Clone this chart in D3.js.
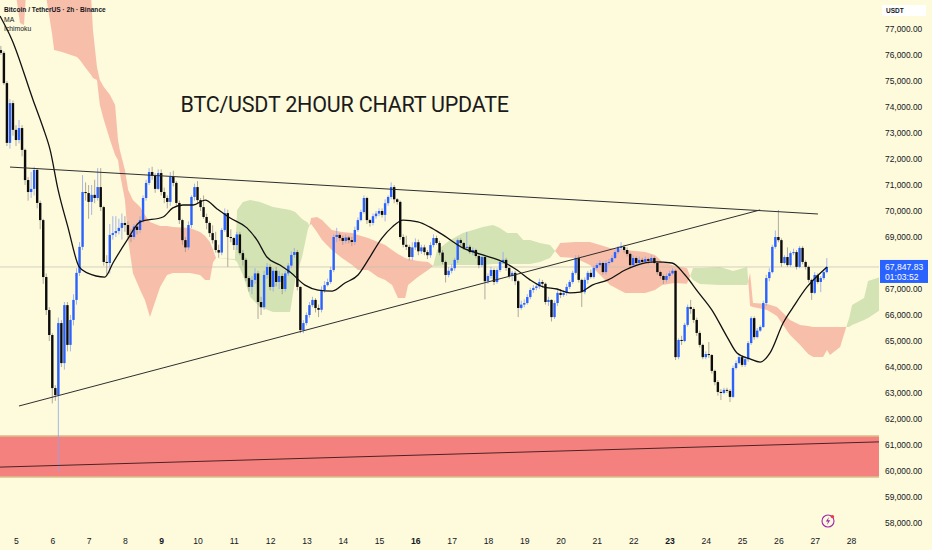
<!DOCTYPE html>
<html>
<head>
<meta charset="utf-8">
<script src="https://cdn.jsdelivr.net/npm/d3@7"></script>
<style>
  html, body { margin: 0; padding: 0; background: #fefadc; }
  #chart { width: 932px; height: 550px; }
</style>
</head>
<body>
<div id="chart"></div>
<script>
var TEXTFONT = '"Liberation Sans", Arial, sans-serif';
var WIDTH = 932;
var HEIGHT = 550;
var PLOT_RIGHT = 879;

// ---- data (prices in thousands of USDT, time in day-of-month) ----
var DAY_TICKS = [5, 6, 7, 8, 9, 10, 11, 12, 13, 14, 15, 16, 17, 18, 19, 20, 21, 22, 23, 24, 25, 26, 27, 28];
var BOLD_DAYS = [9, 16, 23];
var PRICE_TICKS = [58, 59, 60, 61, 62, 63, 64, 65, 66, 67, 68, 69, 70, 71, 72, 73, 74, 75, 76, 77];
var FIRST_CANDLE = { 'day' : 4, 'hour' : 14 };
var CANDLE_HOURS = 2;
// [open, high, low, close]
var CANDLES = [
  [76.19,76.35,76.00,76.08],[76.08,76.15,74.85,74.92],[74.92,75.00,72.50,72.62],[72.62,74.30,72.40,74.15],
  [74.15,74.25,72.90,73.12],[73.12,73.30,72.50,72.73],[72.73,73.50,72.60,73.19],[73.19,73.30,72.10,72.35],
  [72.35,72.40,71.00,71.19],[71.19,71.30,70.40,70.73],[70.73,71.50,70.50,70.85],[70.85,71.70,70.60,71.58],
  [71.58,71.65,70.10,70.31],[70.31,70.40,69.30,69.65],[69.65,69.70,67.20,67.46],[67.46,67.60,66.00,66.19],
  [66.19,66.30,65.00,65.23],[65.23,65.30,62.60,63.19],[63.19,63.30,62.70,62.92],[62.92,65.90,59.96,65.69],
  [65.69,65.80,64.00,64.15],[64.15,66.50,63.90,66.38],[66.38,66.50,64.60,64.85],[64.85,66.00,64.60,65.81],
  [65.81,66.80,65.60,66.58],[66.58,67.80,66.40,67.62],[67.62,68.80,67.50,68.62],[68.62,71.38,68.50,70.73],
  [70.73,71.10,70.40,70.69],[70.69,71.00,69.70,70.35],[70.35,71.00,69.85,70.62],[70.62,71.20,70.30,70.50],
  [70.50,71.65,70.40,70.92],[70.92,71.65,70.00,70.15],[70.15,70.20,67.90,68.04],[68.04,68.30,67.55,68.00],
  [68.00,69.50,67.60,69.08],[69.08,69.80,68.90,69.15],[69.15,69.80,69.00,69.23],[69.23,69.70,69.10,69.35],
  [69.35,69.90,68.90,69.54],[69.54,69.80,69.20,69.46],[69.46,69.60,68.95,69.08],[69.08,69.30,68.80,69.00],
  [69.00,69.50,68.90,69.40],[69.40,69.55,69.10,69.27],[69.27,69.80,69.15,69.65],[69.65,70.60,69.55,70.50],
  [70.50,71.20,70.40,71.08],[71.08,71.65,71.00,71.50],
  [71.50,71.70,71.20,71.35],[71.35,71.45,70.70,70.85],[70.85,71.60,70.80,71.46],[71.46,71.60,70.60,70.73],
  [70.73,70.90,70.30,70.50],[70.50,70.60,70.10,70.35],[70.35,71.50,70.20,71.31],[71.31,71.55,70.95,71.08],
  [71.08,71.15,70.20,70.31],[70.31,70.40,69.50,69.65],[69.65,69.70,68.70,68.88],[68.88,69.00,68.42,68.60],
  [68.60,69.60,68.50,69.46],[69.46,70.60,69.35,70.54],[70.54,71.05,70.40,70.92],[70.92,71.15,70.30,70.42],
  [70.42,70.50,70.00,70.15],[70.15,70.60,69.70,69.77],[69.77,69.90,69.30,69.54],[69.54,69.60,69.00,69.15],
  [69.15,69.45,68.75,68.88],[68.88,69.20,68.40,68.50],[68.50,68.70,68.20,68.40],[68.40,69.35,68.30,69.27],
  [69.27,70.10,69.20,69.92],[69.92,70.05,67.85,69.00],[69.00,69.30,68.80,68.96],[68.96,69.00,68.50,68.69],
  [68.69,69.20,68.50,69.10],[69.10,69.20,68.30,68.38],[68.38,68.50,67.90,68.12],[68.12,68.20,67.30,67.42],
  [67.42,67.50,66.90,67.08],[67.08,67.50,66.80,67.35],[67.35,67.80,67.20,67.60],[67.60,67.70,65.85,66.50],
  [66.50,66.70,66.00,66.30],[66.30,67.70,66.20,67.54],[67.54,68.00,67.40,67.85],[67.85,67.95,66.95,67.08],
  [67.08,67.80,66.90,67.70],[67.70,67.85,67.10,67.27],[67.27,67.70,67.00,67.50],[67.50,67.60,66.80,67.00],
  [67.00,67.70,66.90,67.60],[67.60,68.00,67.50,67.90],
  [67.90,68.45,67.80,68.31],[68.31,68.58,68.20,68.42],[68.42,68.50,66.95,67.08],[67.08,67.10,65.30,65.42],
  [65.42,65.80,65.30,65.69],[65.69,66.10,65.60,66.00],[66.00,66.50,65.90,66.38],[66.38,66.70,66.30,66.58],
  [66.58,66.65,66.10,66.27],[66.27,66.40,65.92,66.20],[66.20,67.10,66.10,66.96],[66.96,67.30,66.85,67.15],
  [67.15,67.40,67.10,67.27],[67.27,67.85,67.20,67.73],[67.73,69.10,67.65,69.00],[69.00,69.35,68.80,69.08],
  [69.08,69.15,68.85,68.96],[68.96,69.05,68.70,68.85],[68.85,69.10,68.75,68.98],[68.98,69.05,68.75,68.88],
  [68.88,69.00,68.65,68.81],[68.81,69.40,68.70,69.27],[69.27,69.75,69.20,69.65],[69.65,70.05,69.60,69.96],
  [69.96,70.60,69.90,70.50],[70.50,70.55,69.50,69.65],[69.65,69.70,69.40,69.54],[69.54,69.90,69.45,69.80],
  [69.80,70.00,69.70,69.90],[69.90,70.10,69.80,70.00],[70.00,70.10,69.75,69.85],[69.85,70.45,69.60,70.30],
  [70.30,70.60,70.20,70.54],[70.54,71.10,70.45,70.92],[70.92,71.00,70.30,70.45],[70.45,70.50,70.25,70.35],
  [70.35,70.40,68.90,69.00],[69.00,69.10,68.60,68.70],[68.70,69.05,68.50,68.62],[68.62,68.70,68.10,68.23],
  [68.23,68.80,68.10,68.60],[68.60,68.95,68.50,68.80],[68.80,68.90,68.30,68.45],[68.45,68.70,68.35,68.60],
  [68.60,68.70,68.30,68.42],[68.42,68.50,68.15,68.30],[68.30,68.80,68.20,68.69],[68.69,69.10,68.60,68.96],
  [68.96,69.05,68.70,68.77],[68.77,68.85,68.30,68.40],[68.40,68.50,67.95,68.04],[68.04,68.10,67.25,67.54],
  [67.54,67.85,67.45,67.70],[67.70,67.95,67.60,67.80],[67.80,68.20,67.70,68.12],[68.12,68.95,68.00,68.88],
  [68.88,68.95,68.65,68.77],[68.77,68.80,68.50,68.58],[68.58,69.20,68.50,68.62],[68.62,68.70,68.35,68.42],
  [68.42,68.60,68.30,68.50],[68.50,68.55,68.20,68.27],[68.27,68.35,67.80,67.92],[67.92,68.30,67.85,68.23],
  [68.23,68.30,66.60,67.30],[67.30,67.60,67.20,67.50],[67.50,67.85,67.40,67.73],[67.73,67.80,67.15,67.27],
  [67.27,67.80,67.20,67.73],[67.73,68.10,67.65,68.04],[68.04,68.42,67.95,68.12],[68.12,68.20,67.70,67.81],
  [67.81,67.85,67.40,67.50],[67.50,67.70,67.30,67.62],[67.62,67.70,67.15,67.30],[67.30,67.35,65.92,66.27],
  [66.27,66.55,66.20,66.40],[66.40,66.60,66.30,66.46],[66.46,66.80,66.40,66.69],[66.69,67.05,66.60,66.96],
  [66.96,67.15,66.85,67.04],[67.04,67.20,66.95,67.10],[67.10,67.40,67.00,67.27],[67.27,67.35,67.05,67.20],
  [67.20,67.25,66.40,66.50],[66.50,66.70,66.35,66.58],[66.58,66.60,65.75,65.92],[65.92,66.55,65.85,66.46],
  [66.46,66.95,66.35,66.85],[66.85,67.00,66.65,66.77],[66.77,66.95,66.70,66.85],[66.85,67.20,66.75,67.08],
  [67.08,67.35,67.00,67.27],[67.27,67.70,67.20,67.62],[67.62,68.30,67.55,68.19],
  [68.19,68.30,67.25,67.35],[67.35,67.40,66.31,66.88],[66.88,67.45,66.80,67.35],[67.35,67.70,67.20,67.62],
  [67.62,67.75,67.40,67.46],[67.46,67.90,67.40,67.81],[67.81,68.00,67.75,67.92],[67.92,68.10,67.85,68.00],
  [68.00,68.05,67.55,67.65],[67.65,68.10,67.55,68.00],[68.00,68.15,67.90,68.04],[68.04,68.30,68.00,68.19],
  [68.19,68.50,68.15,68.42],[68.42,68.65,68.35,68.58],[68.58,68.80,68.50,68.62],[68.62,68.70,68.40,68.50],
  [68.50,68.60,68.25,68.35],[68.35,68.40,67.80,67.92],[67.92,68.30,67.85,68.19],[68.19,68.25,67.90,68.00],
  [68.00,68.25,67.95,68.12],[68.12,68.20,67.95,68.04],[68.04,68.25,68.00,68.15],[68.15,68.20,67.95,68.08],
  [68.08,68.30,68.00,68.19],[68.19,68.25,67.95,68.00],[68.00,68.05,67.55,67.65],[67.65,67.70,67.40,67.50],
  [67.50,67.55,67.20,67.35],[67.35,67.60,67.25,67.50],[67.50,67.70,67.40,67.60],[67.60,67.80,67.55,67.70],
  [67.70,67.75,64.27,64.38],
  [64.38,65.10,64.30,65.04],[65.04,65.20,64.85,65.00],[65.00,65.70,64.95,65.62],[65.62,66.40,65.55,66.31],
  [66.31,66.58,66.05,66.23],[66.23,66.30,65.70,65.81],[65.81,65.90,65.20,65.31],[65.31,65.40,64.75,64.85],
  [64.85,64.90,64.30,64.38],[64.38,64.60,64.30,64.50],[64.50,64.96,64.35,64.46],[64.46,64.50,63.75,63.85],
  [63.85,63.90,63.30,63.42],[63.42,63.50,62.90,63.04],[63.04,63.15,62.73,63.00],[63.00,63.20,62.95,63.12],
  [63.12,63.20,63.00,63.08],[63.08,63.15,62.65,62.85],
  [62.85,64.05,62.80,63.96],[63.96,64.25,63.90,64.15],[64.15,64.45,64.10,64.38],[64.38,64.45,64.00,64.08],
  [64.08,64.40,64.00,64.30],[64.30,65.00,64.20,64.92],[64.92,65.95,64.85,65.88],[65.88,65.95,65.05,65.15],
  [65.15,65.50,65.10,65.40],[65.40,65.60,65.35,65.54],[65.54,66.55,65.50,66.46],[66.46,67.55,66.35,67.42],
  [67.42,67.80,67.30,67.65],[67.65,68.70,67.60,68.62],[68.62,69.25,68.55,69.00],[69.00,70.04,68.80,68.88],
  [68.88,68.95,67.85,68.00],[68.00,68.30,67.95,68.23],[68.23,68.60,67.85,67.92],[67.92,68.45,67.85,68.38],
  [68.38,68.55,68.30,68.42],[68.42,68.50,67.75,67.85],[67.85,68.65,67.80,68.58],[68.58,68.65,67.95,68.04],
  [68.04,68.10,67.75,67.85],[67.85,67.90,67.25,67.35],[67.35,67.40,66.58,66.85],[66.85,67.65,66.80,67.54],
  [67.54,67.60,67.20,67.27],[67.27,67.50,66.88,67.42],[67.42,67.75,67.35,67.65],[67.65,68.19,67.60,67.84783]
];
// moving average line [day, price]
var MA_POINTS = [
  [4.56,77.5],[4.89,76.58],[5.47,74.27],[5.74,73.23],[5.94,72.35],[6.16,70.81],[6.43,69.38],[6.74,67.85],
  [6.96,67.62],[7.45,67.46],[7.67,68.0],[8.06,68.88],[8.42,69.58],[9.05,69.77],[9.32,70.12],[9.60,70.23],
  [9.88,70.23],[10.21,70.42],[10.54,70.08],[10.90,69.73],[11.36,69.35],[11.64,68.88],[11.91,68.23],[12.27,67.92],
  [12.55,67.65],[12.96,67.15],[13.32,66.96],[13.71,66.92],[14.06,67.23],[14.42,67.54],[14.70,68.12],[15.08,68.96],
  [15.36,69.38],[15.66,69.65],[16.07,69.58],[16.40,69.38],[16.76,69.08],[17.31,68.58],[17.86,68.31],[18.42,68.04],
  [18.80,67.73],[19.16,67.35],[19.52,67.08],[19.90,67.0],[20.26,66.85],[20.54,66.88],[20.87,67.15],[21.31,67.35],
  [21.78,67.73],[22.11,67.92],[22.60,68.04],[23.07,68.0],[23.43,67.54],[23.79,66.88],[24.17,66.19],[24.59,65.15],
  [24.86,64.54],[25.22,64.31],[25.50,64.19],[25.77,64.54],[26.13,65.69],[26.41,66.31],[26.79,67.08],[27.07,67.5],
  [27.34,67.85]
];
// ichimoku cloud [day, senkou A, senkou B]
var CLOUD = [
  [4.56,78.5,80.42],[5.0,78.31,80.4],[5.11,77.23,80.4],[5.22,77.15,80.35],[5.27,78.23,80.3],[5.83,78.23,80.04],
  [5.88,77.81,79.65],[5.99,76.85,79.46],[6.05,76.19,79.27],[6.27,76.12,79.08],[6.68,75.92,78.69],[6.76,75.81,78.58],
  [6.9,75.54,78.42],[7.07,75.23,78.19],[7.12,75.12,76.96],[7.23,75.04,75.54],[7.31,74.08,75.04],[7.42,73.5,74.77],
  [7.59,72.73,74.46],[7.73,72.15,74.08],[7.81,71.96,72.73],[7.86,71.46,72.35],[8.0,70.42,71.58],[8.09,68.88,70.81],
  [8.22,67.62,70.42],[8.42,66.96,70.15],[8.55,66.58,69.85],[8.69,65.92,69.58],[8.83,66.5,69.5],[8.97,67.08,69.42],
  [9.16,67.54,69.42],[9.32,67.62,69.38],[9.79,67.62,69.35],[10.07,67.54,69.19],[10.21,67.35,69.04],[10.34,67.35,68.81],
  [10.43,68.04,68.5],[10.51,68.19,68.19],[11.03,68.15,68.12],[11.09,70.04,68.04],[11.25,70.35,67.54],[11.45,70.42,66.69],
  [11.72,70.35,66.31],[12.08,70.15,66.12],[12.55,70.04,66.12],[12.69,69.96,67.35],[12.88,69.69,68.23],[13.04,69.55,69.3],
  [13.08,69.42,69.42],[13.13,69.5,69.73],[13.29,69.19,69.77],[13.43,68.88,69.65],[13.70,68.5,69.27],[13.98,68.19,69.19],
  [14.26,67.92,69.15],[14.42,67.73,69.08],[14.7,67.73,68.96],[14.97,67.46,68.81],[15.17,67.35,68.69],[15.36,67.15,68.5],
  [15.52,66.65,68.35],[15.72,66.65,68.19],[15.8,67.15,68.15],[16.07,67.46,68.08],[16.35,67.73,68.04],[16.49,67.88,67.88],
  [16.6,68.5,67.88],[16.96,68.88,67.92],[17.31,69.15,67.92],[17.59,69.27,67.92],[17.86,69.38,67.92],[18.14,69.46,67.96],
  [18.33,69.35,67.96],[18.53,69.15,67.96],[18.8,69.15,67.96],[18.97,68.88,67.96],[19.16,68.88,67.96],[19.43,68.77,68.04],
  [19.71,68.69,68.19],[19.85,68.46,68.46],[19.99,68.23,68.77],[20.4,68.19,68.81],[20.81,67.92,68.81],[21.09,67.54,68.69],
  [21.36,67.15,68.58],[21.78,66.85,68.5],[22.33,66.85,68.42],[22.6,66.96,68.31],[22.8,67.15,68.04],[23.15,67.23,67.88],
  [23.48,67.2,67.81],[23.57,67.5,67.5],[23.65,67.81,67.35],[23.84,67.81,67.19],[24.39,67.85,67.15],[24.75,67.69,67.15],
  [24.95,67.77,67.15],[25.14,67.85,67.15],[25.17,67.3,67.3],[25.22,66.35,67.62],[25.3,66.31,66.46],[25.69,66.19,66.42],
  [25.96,65.96,66.31],[26.13,65.62,66.08],[26.32,65.23,65.81],[26.6,64.85,65.62],[26.82,64.5,65.58],[26.96,64.38,65.54],
  [27.23,64.38,65.54],[27.34,64.65,65.54],[27.42,64.46,65.54],[27.7,64.77,65.54],[27.87,65.54,65.54],[27.95,65.88,65.54],
  [28.03,66.38,65.62],[28.36,66.65,65.81],[28.47,67.31,65.88],[28.8,67.46,66.19]
];
var UPPER_TREND = [[4.835, 71.69], [27.09, 69.885]];
var LOWER_TREND = [[5.082, 62.50], [25.496, 70.04]];
var SUPPORT_ZONE = [59.77, 61.35];
var SUPPORT_LINE = [[4.56, 60.15], [28.77, 61.12]];
var LAST_PRICE = 67.84783;
var COUNTDOWN = '01:03:52';
var TITLE = 'BTC/USDT 2HOUR CHART UPDATE';
var LEGEND = ['Bitcoin / TetherUS \u00b7 2h \u00b7 Binance', 'MA', 'Ichimoku'];
var CURRENCY = 'USDT';

var COLORS = { 'bg' : '#fefadc', 'up' : '#2962ff', 'down' : '#0c0c0c',
               'upWick' : '#8fa6ee', 'downWick' : '#9a968c',
               'cloudUp' : '#d3e3b4', 'cloudDown' : '#f7bfa9',
               'zone' : '#f5817f', 'zoneEdge' : '#d8c08c', 'text' : '#131722' };

var xScale = d3.scaleLinear().domain([5, 28]).range([16, 851]);
var yScale = d3.scaleLinear().domain([58, 77]).range([523, 29]);
var priceFormat = d3.format(',.2f');

/** Day-of-month position of candle i. */
function candleDay(i) {
    return FIRST_CANDLE.day + FIRST_CANDLE.hour / 24 + i * CANDLE_HOURS / 24;
};
/** Split cloud rows into runs of the same sign of (A - B). */
function splitCloud(rows) {
    var runs = [];
    var cur = { 'sign' : 0, 'pts' : [] };
    rows.forEach(function (r) {
        var s = Math.sign(r[1] - r[2]);
        if (s === 0) {
            cur.pts.push(r);
            if (cur.pts.length > 1) runs.push(cur);
            cur = { 'sign' : 0, 'pts' : [r] };
        } else if (cur.sign === 0 || cur.sign === s) {
            cur.sign = s;
            cur.pts.push(r);
        } else {
            var p = cur.pts[cur.pts.length - 1];
            var d0 = p[1] - p[2], d1 = r[1] - r[2];
            var f = d0 / (d0 - d1);
            var t = p[0] + f * (r[0] - p[0]);
            var v = p[1] + f * (r[1] - p[1]);
            cur.pts.push([t, v, v]);
            runs.push(cur);
            cur = { 'sign' : s, 'pts' : [[t, v, v], r] };
        }
    });
    if (cur.pts.length > 1) runs.push(cur);
    return runs;
};
function addCloud(grp) {
    var area = d3.area().x(function (d) { return xScale(d[0]); })
        .y0(function (d) { return yScale(d[1]); })
        .y1(function (d) { return yScale(d[2]); });
    splitCloud(CLOUD).forEach(function (run) {
        grp.append('path').datum(run.pts).attr('d', area)
            .attr('fill', run.sign >= 0 ? COLORS.cloudUp : COLORS.cloudDown);
    });
};
function addSupportZone(grp) {
    var yTop = yScale(SUPPORT_ZONE[1]);
    var yBot = yScale(SUPPORT_ZONE[0]);
    grp.append('rect').attr('x', 0).attr('y', yTop).attr('width', PLOT_RIGHT).attr('height', yBot - yTop)
        .attr('fill', COLORS.zone);
    [yTop, yBot].forEach(function (y) {
        grp.append('line').attr('x1', 0).attr('x2', PLOT_RIGHT).attr('y1', y).attr('y2', y)
            .attr('stroke', COLORS.zoneEdge).attr('stroke-width', 1.5);
    });
};
function addCandles(grp) {
    var bodyW = 2.4;
    var g = grp.append('g');
    CANDLES.forEach(function (c, i) {
        var x = xScale(candleDay(i));
        var up = c[3] >= c[0];
        g.append('line').attr('x1', x).attr('x2', x).attr('y1', yScale(c[1])).attr('y2', yScale(c[2]))
            .attr('stroke', up ? COLORS.upWick : COLORS.downWick).attr('stroke-width', 0.8);
        var yTop = yScale(Math.max(c[0], c[3]));
        var h = Math.max(0.9, yScale(Math.min(c[0], c[3])) - yTop);
        g.append('rect').attr('x', x - bodyW / 2).attr('y', yTop).attr('width', bodyW).attr('height', h)
            .attr('fill', up ? COLORS.up : COLORS.down);
    });
};
function addLine(grp, pts, color, width) {
    var line = d3.line().x(function (d) { return xScale(d[0]); }).y(function (d) { return yScale(d[1]); });
    return grp.append('path').datum(pts).attr('d', line).attr('fill', 'none')
        .attr('stroke', color).attr('stroke-width', width);
};
function addMovingAverage(grp) {
    var line = d3.line().curve(d3.curveMonotoneX)
        .x(function (d) { return xScale(d[0]); }).y(function (d) { return yScale(d[1]); });
    grp.append('path').datum(MA_POINTS).attr('d', line).attr('fill', 'none')
        .attr('stroke', '#111').attr('stroke-width', 1.3);
};
function addLegend(svg) {
    var g = svg.append('g').style('font-family', TEXTFONT).attr('fill', COLORS.text);
    g.append('text').attr('x', 4).attr('y', 12).text(LEGEND[0]).style('font-size', '6.6px').style('font-weight', 600);
    g.append('text').attr('x', 4).attr('y', 21.5).text(LEGEND[1]).style('font-size', '6.8px');
    g.append('text').attr('x', 4).attr('y', 31).text(LEGEND[2]).style('font-size', '6.8px');
};
function addAxes(svg) {
    // the live price label sits over the tick nearest to it, as on the original
    var labelY = yScale(LAST_PRICE);
    var visibleTicks = PRICE_TICKS.filter(function (d) { return Math.abs(yScale(d) - labelY - 4) > 14; });
    var yAxis = d3.axisRight(yScale).tickValues(visibleTicks).tickSize(0).tickPadding(6)
        .tickFormat(function (d) { return priceFormat(d * 1000); });
    var ya = svg.append('g').attr('transform', 'translate(' + PLOT_RIGHT + ',0)').call(yAxis);
    ya.select('.domain').remove();
    ya.selectAll('text').style('font-family', TEXTFONT).style('font-size', '8.4px').attr('fill', COLORS.text);
    var xAxis = d3.axisBottom(xScale).tickValues(DAY_TICKS).tickSize(0).tickPadding(4)
        .tickFormat(d3.format('d'));
    var xa = svg.append('g').attr('transform', 'translate(0,534)').call(xAxis);
    xa.select('.domain').remove();
    xa.selectAll('text').style('font-family', TEXTFONT).style('font-size', '8.6px').attr('fill', COLORS.text)
        .style('font-weight', function (d) { return BOLD_DAYS.indexOf(d) >= 0 ? 'bold' : 'normal'; });
    svg.append('rect').attr('x', 882).attr('y', 5).attr('width', 44).attr('height', 11).attr('fill', '#fff');
    svg.append('text').attr('x', 886).attr('y', 13).text(CURRENCY).style('font-family', TEXTFONT)
        .style('font-size', '6.5px').style('font-weight', 600).attr('fill', COLORS.text);
};
function addPriceLabel(svg) {
    var y = yScale(LAST_PRICE);
    svg.append('rect').attr('x', 880).attr('y', y - 7).attr('width', 48).attr('height', 23).attr('fill', COLORS.up);
    var g = svg.append('g').style('font-family', TEXTFONT).style('font-size', '8.6px').attr('fill', '#fff');
    g.append('text').attr('x', 885).attr('y', y + 3).text(priceFormat(LAST_PRICE * 1000));
    g.append('text').attr('x', 885).attr('y', y + 13.5).text(COUNTDOWN);
};
function addIcon(svg) {
    var g = svg.append('g').attr('transform', 'translate(828,521)');
    g.append('circle').attr('r', 6).attr('fill', '#fefadc').attr('stroke', '#9c27b0').attr('stroke-width', 1.1);
    g.append('path').attr('d', 'M1,-4 L-2.2,0.6 L0,0.6 L-1,4 L2.2,-0.8 L0,-0.8 Z').attr('fill', '#9c27b0');
    g.append('circle').attr('cx', 4.4).attr('cy', -4.4).attr('r', 1.7).attr('fill', '#f23645');
};

window.addEventListener('DOMContentLoaded', function () {
    var svg = d3.select('#chart').append('svg').attr('width', WIDTH).attr('height', HEIGHT);
    svg.append('rect').attr('width', WIDTH).attr('height', HEIGHT).attr('fill', COLORS.bg);
    svg.append('clipPath').attr('id', 'plot-clip').append('rect')
        .attr('x', 0).attr('y', 0).attr('width', PLOT_RIGHT).attr('height', 528);
    var plot = svg.append('g').attr('clip-path', 'url(#plot-clip)');
    addSupportZone(plot);
    addCloud(plot);
    plot.append('line').attr('x1', 0).attr('x2', PLOT_RIGHT).attr('y1', yScale(LAST_PRICE)).attr('y2', yScale(LAST_PRICE))
        .attr('stroke', '#c4c2b4').attr('stroke-width', 0.7);
    addCandles(plot);
    addLegend(svg);
    addMovingAverage(plot);
    addLine(plot, UPPER_TREND, '#2e2e2e', 1);
    addLine(plot, LOWER_TREND, '#2e2e2e', 1);
    addLine(plot, SUPPORT_LINE, '#4a2222', 1);
    svg.append('text').attr('x', 180.5).attr('y', 111.7).text(TITLE)
        .attr('textLength', 328.5).attr('lengthAdjust', 'spacing')
        .style('font-family', 'Roboto, "Liberation Sans", Arial, sans-serif')
        .style('font-size', '21.5px').attr('fill', '#1b1b1b');
    addAxes(svg);
    addPriceLabel(svg);
    addIcon(svg);
});
</script>
</body>
</html>
